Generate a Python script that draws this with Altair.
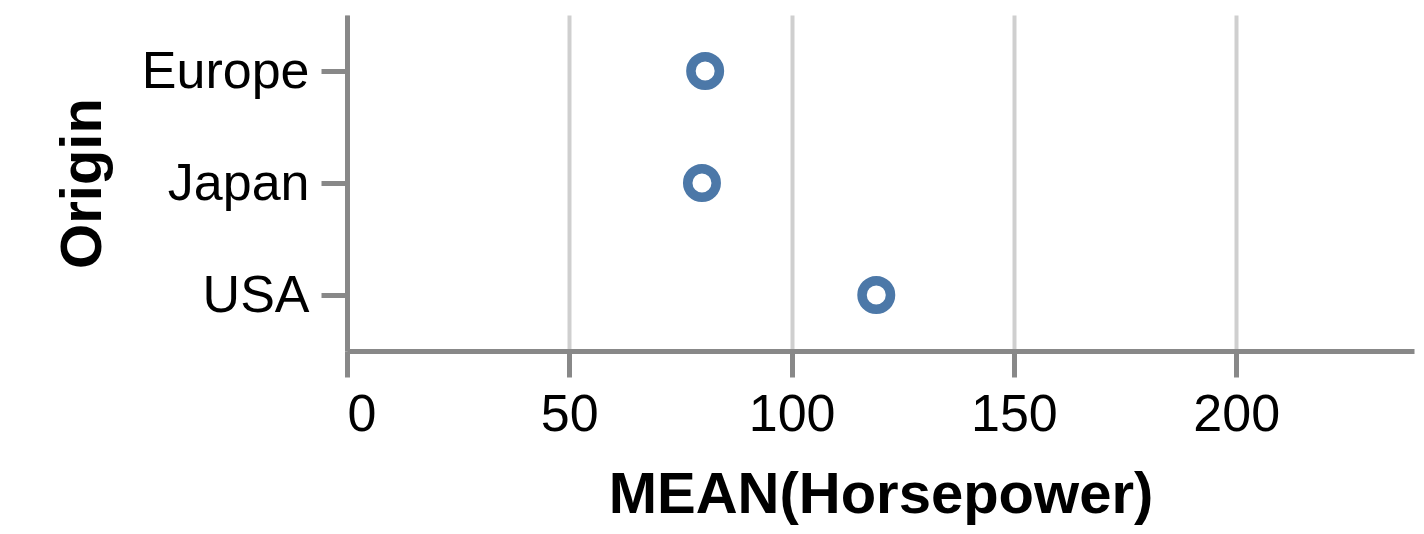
import altair as alt
import pandas as pd

origins = ["Europe", "Japan", "USA"]
mean_hp = [80.56, 79.84, 119.05]

df = pd.DataFrame({"Origin": origins, "Horsepower": mean_hp})

FONT = "Liberation Sans"

chart = alt.Chart(df).mark_point(
    filled=False, color="#4c78a8", size=812, strokeWidth=9.5, opacity=1
).encode(
    x=alt.X("Horsepower:Q", title="MEAN(Horsepower)",
            scale=alt.Scale(domain=[0, 240], nice=False),
            axis=alt.Axis(values=[0, 50, 100, 150, 200], titlePadding=26)),
    y=alt.Y("Origin:N", title="Origin", sort=origins,
            axis=alt.Axis(titlePadding=35)),
).properties(
    width=1067, height=336,
    autosize=alt.AutoSizeParams(type="none"),
    padding={"left": 339, "top": 7, "right": 2, "bottom": 180},
).configure_axis(
    labelFont=FONT, titleFont=FONT,
    labelFontSize=52, titleFontSize=58, titleFontWeight="bold",
    labelColor="#000", titleColor="#000",
    domainColor="#888", domainWidth=5,
    tickColor="#888", tickWidth=5, tickSize=26,
    labelPadding=12,
    gridColor="#cfcfcf", gridWidth=4,
).configure_axisY(grid=False).configure_axisX(grid=True).configure_view(stroke=None)

chart.save("out.html", embed_options={"renderer": "svg", "actions": False})
